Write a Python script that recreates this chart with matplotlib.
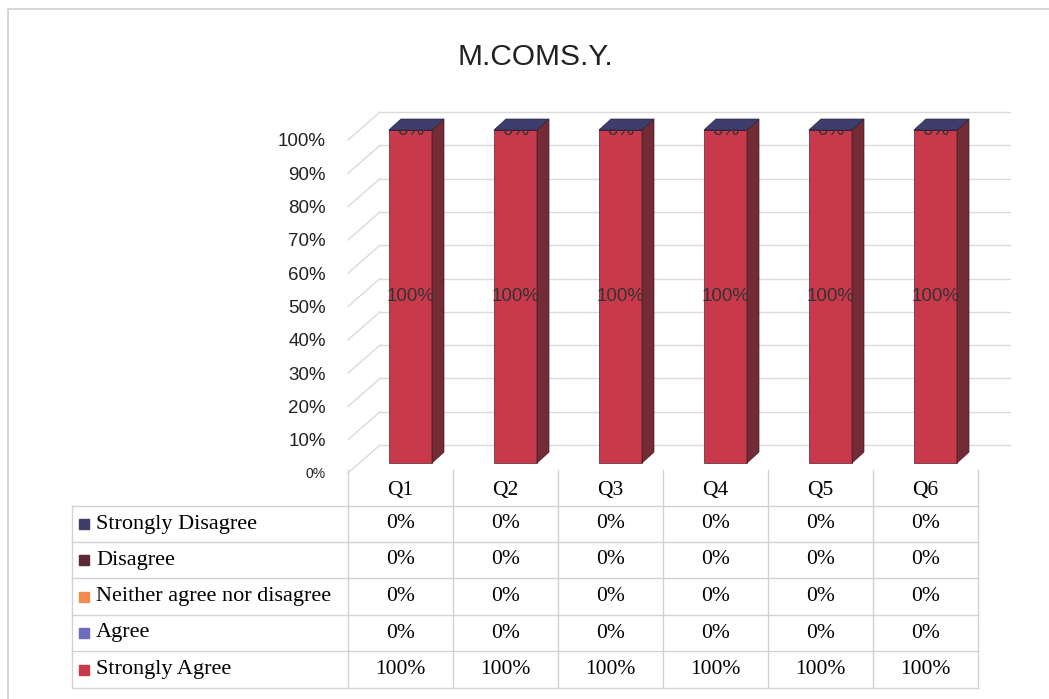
import matplotlib
matplotlib.use("Agg")
import matplotlib.pyplot as plt
from matplotlib.patches import Polygon
import numpy as np

# data
questions = ["Q1", "Q2", "Q3", "Q4", "Q5", "Q6"]
series_names = ["Strongly Disagree", "Disagree", "Neither agree nor disagree",
                "Agree", "Strongly Agree"]
strongly_disagree = [0, 0, 0, 0, 0, 0]
disagree = [0, 0, 0, 0, 0, 0]
neither = [0, 0, 0, 0, 0, 0]
agree = [0, 0, 0, 0, 0, 0]
strongly_agree = [1.0, 1.0, 1.0, 1.0, 1.0, 1.0]
title = "M.COMS.Y."

front_cols = ["#3e3e6c", "#5b2833", "#f58a4e", "#6d6dbd", "#c9394c"]
side_cols = ["#2b2b4c", "#3d1a22", "#a85c33", "#48487e", "#732b36"]

W, H = 1049, 699
fig = plt.figure(figsize=(W / 100, H / 100), dpi=100)
ax = fig.add_axes([348 / W, 1 - 473 / H, (978 - 348) / W, (473 - 140) / H])
ax.set_xlim(-0.5, 5.5)
ax.set_ylim(0, 1)
for s in ax.spines.values():
    s.set_visible(False)
ax.set_xticks([])

# pixel -> data helpers for the layout
def dx(p):
    return (p - 348) / 105 - 0.5

def dy(p):
    return (473 - p) / 333

grid_col = "#dadada"
back_dx, back_dy = 0.305, 0.084
bar_off_x, bar_off_y = 0.095, 0.03
depth_x, depth_y = 0.114, 0.033
bw = 0.41

# y ticks
ticks = np.arange(0, 1.01, 0.1)
ax.set_yticks(ticks)
ax.set_yticklabels(["%d%%" % round(t * 100) for t in ticks],
                   fontfamily="Liberation Sans", fontsize=13.5, color="#222222")
ax.tick_params(axis="y", length=0, pad=16)
ax.get_yticklabels()[0].set_fontsize(10)

# back wall grid + left wall slants
for t in ticks:
    ax.plot([-0.5, -0.5 + back_dx], [t, t + back_dy], color=grid_col, lw=1,
            clip_on=False, zorder=1)
    ax.plot([-0.5 + back_dx, 5.5 + back_dx], [t + back_dy, t + back_dy],
            color=grid_col, lw=1, clip_on=False, zorder=1)

# stacked pseudo-3D bars (bottom to top: Strongly Agree ... Strongly Disagree)
x = np.arange(len(questions)) + bar_off_x
stack = [strongly_agree, agree, neither, disagree, strongly_disagree]
stack_front = front_cols[::-1]
stack_side = side_cols[::-1]
base = np.zeros(len(questions))
labelled = set()
for vals, fc, sc in zip(stack, stack_front, stack_side):
    vals = np.array(vals, dtype=float)
    bars = ax.bar(x, vals, width=bw, bottom=base + bar_off_y, color=fc,
                  edgecolor="#5a2030", linewidth=0.5, zorder=3)
    for p in bars:
        p.set_clip_on(False)
    for i in range(len(x)):
        xr = x[i] + bw / 2
        b = base[i] + bar_off_y
        t = b + vals[i]
        if vals[i] > 0:
            ax.add_patch(Polygon([(xr, b), (xr + depth_x, b + depth_y),
                                  (xr + depth_x, t + depth_y), (xr, t)],
                                 closed=True, facecolor=sc, edgecolor="#3a1520",
                                 lw=0.5, zorder=3, clip_on=False))
        key = (i, round(base[i] + vals[i] / 2, 4))
        if key not in labelled:
            labelled.add(key)
            ax.text(x[i], base[i] + vals[i] / 2 + bar_off_y, "%d%%" % round(vals[i] * 100),
                    ha="center", va="center", fontsize=13.5,
                    fontfamily="Liberation Sans", color="#333333", zorder=4,
                    clip_on=False)
    base = base + vals

# top face coloured by the top series
for i in range(len(x)):
    xl, xr = x[i] - bw / 2, x[i] + bw / 2
    t = base[i] + bar_off_y
    ax.add_patch(Polygon([(xl, t), (xl + depth_x, t + depth_y),
                          (xr + depth_x, t + depth_y), (xr, t)], closed=True,
                         facecolor=front_cols[0], edgecolor="#25253f", lw=0.5,
                         zorder=5, clip_on=False))

# data table
serif = "Liberation Serif"
tcol = "#d2d2d2"
row_lines = [506, 542, 578, 615, 651, 688]
for r in row_lines:
    ax.plot([dx(72), dx(978)], [dy(r), dy(r)], color=tcol, lw=1, clip_on=False)
for c in range(len(questions) + 1):
    ax.plot([c - 0.5, c - 0.5], [dy(470), dy(688)], color=tcol, lw=1, clip_on=False)
ax.plot([dx(72), dx(72)], [dy(506), dy(688)], color=tcol, lw=1, clip_on=False)

for i, q in enumerate(questions):
    ax.text(i, dy(490), q, ha="center", va="center", fontsize=15.5,
            fontfamily=serif, clip_on=False)

table_rows = [strongly_disagree, disagree, neither, agree, strongly_agree]
for k, (name, vals) in enumerate(zip(series_names, table_rows)):
    yc = dy((row_lines[k] + row_lines[k + 1]) / 2)
    ax.plot([dx(84)], [yc], marker="s", ms=7.5, color=front_cols[k],
            clip_on=False, linestyle="none")
    ax.text(dx(96), yc, name, ha="left", va="center", fontsize=16,
            fontfamily=serif, clip_on=False)
    for i, v in enumerate(vals):
        ax.text(i, yc, "%d%%" % round(v * 100), ha="center", va="center",
                fontsize=15.5, fontfamily=serif, clip_on=False)

# title and outer chart border
fig.text(535 / W, 1 - 57 / H, title, ha="center", va="center", fontsize=21.5,
         fontfamily="Liberation Sans", color="#222222")
fig.add_artist(plt.Line2D([8 / W, 8 / W, 1], [0, 1 - 9 / H, 1 - 9 / H],
                          color="#cfcfcf", lw=1.2))

fig.savefig("out.png", dpi=100)
